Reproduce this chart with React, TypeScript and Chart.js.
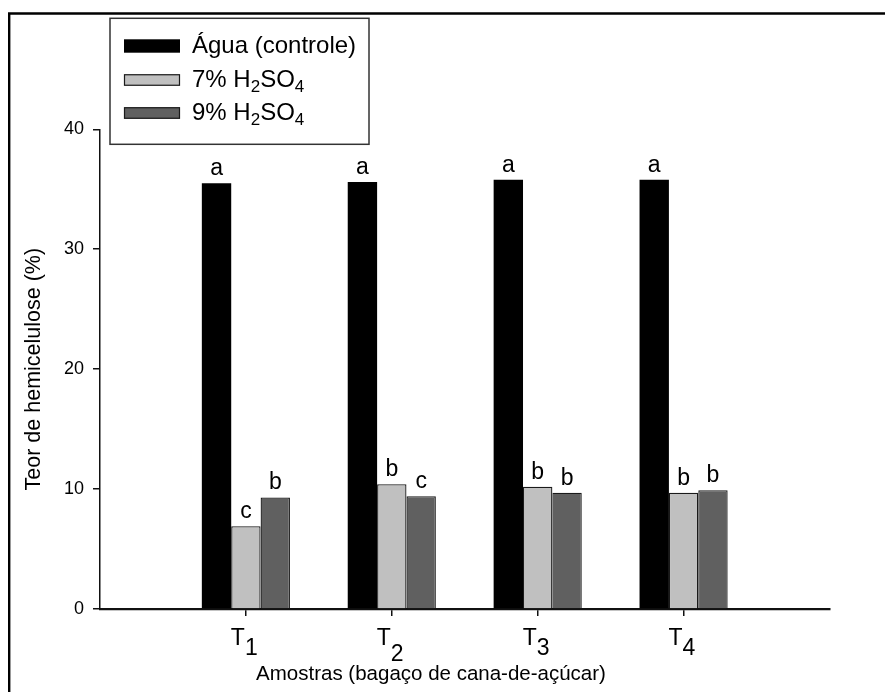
import React, { useEffect, useRef } from 'react';
import { Chart, registerables } from 'chart.js';

Chart.register(...registerables);

const categories = ['T1', 'T2', 'T3', 'T4'];
const categorySubscripts = ['1', '2', '3', '4'];
const seriesNames = ['Água (controle)', '7% H2SO4', '9% H2SO4'];
const aguaValues = [35.5, 35.6, 35.8, 35.8];
const h2so4_7Values = [6.9, 10.4, 10.2, 9.7];
const h2so4_9Values = [9.3, 9.4, 9.7, 9.9];
const aguaLetters = ['a', 'a', 'a', 'a'];
const h2so4_7Letters = ['c', 'b', 'b', 'b'];
const h2so4_9Letters = ['b', 'c', 'b', 'b'];
const yTickValues = [0, 10, 20, 30, 40];
const xTitle = 'Amostras (bagaço de cana-de-açúcar)';
const yTitle = 'Teor de hemicelulose (%)';

const FONT = '"Liberation Sans", Arial, Helvetica, sans-serif';
const colors = ['#000000', '#c0c0c0', '#606060'];
const borders = ['#000000', '#1a1a1a', '#1a1a1a'];

export default function App() {
  const ref = useRef<HTMLCanvasElement | null>(null);

  useEffect(() => {
    if (!ref.current) return;
    const labels = ['', ...categories, ''];
    const pad = (a: number[]) => [null, ...a, null];
    const letters = [aguaLetters, h2so4_7Letters, h2so4_9Letters];

    const decor = {
      id: 'decor',
      beforeDraw(chart: any) {
        const c = chart.ctx;
        c.save();
        c.fillStyle = '#fff';
        c.fillRect(0, 0, chart.width, chart.height);
        c.strokeStyle = '#000';
        c.lineWidth = 2.4;
        c.beginPath();
        c.moveTo(9.2, chart.height + 10);
        c.lineTo(9.2, 13.5);
        c.lineTo(chart.width + 10, 13.5);
        c.stroke();
        c.restore();
      },
      afterDraw(chart: any) {
        const c = chart.ctx;
        const ca = chart.chartArea;
        c.save();
        c.fillStyle = '#000';
        c.font = `23px ${FONT}`;
        c.textAlign = 'center';
        c.textBaseline = 'alphabetic';
        for (let d = 0; d < 3; d++) {
          const meta = chart.getDatasetMeta(d);
          for (let j = 0; j < categories.length; j++) {
            const el = meta.data[j + 1];
            if (!el) continue;
            c.fillText(letters[d][j], el.x, el.y - 8);
          }
        }
        // x tick labels with subscripts
        const xs = chart.scales.x;
        for (let j = 0; j < categories.length; j++) {
          const px = xs.getPixelForValue(j + 1);
          c.font = `23px ${FONT}`;
          c.textAlign = 'right';
          c.fillText('T', px - 1, ca.bottom + 36);
          c.textAlign = 'left';
          c.fillText(categorySubscripts[j], px - 1, ca.bottom + 46 + (j === 1 ? 6 : 0));
        }
        // axis titles
        c.font = `20.5px ${FONT}`;
        c.textAlign = 'center';
        c.fillText(xTitle, ca.left + 331, ca.bottom + 71);
        c.save();
        c.font = `21.5px ${FONT}`;
        c.translate(ca.left - 60, (ca.top + ca.bottom) / 2);
        c.rotate(-Math.PI / 2);
        c.fillText(yTitle, 0, 0);
        c.restore();

        // legend
        const lx = ca.left + 10;
        const ly = ca.top - 111;
        c.strokeStyle = '#333';
        c.lineWidth = 1.5;
        c.strokeRect(lx, ly, 259, 126);
        const rowsY = [46, 80, 113].map((v) => v - 129.3 + ca.top);
        const swH = [13.4, 11.5, 11.5];
        for (let i = 0; i < 3; i++) {
          const sy = rowsY[i] - swH[i] / 2;
          c.fillStyle = colors[i];
          c.fillRect(lx + 14, sy, 56, swH[i]);
          if (i > 0) {
            c.strokeStyle = '#1a1a1a';
            c.lineWidth = 1.2;
            c.strokeRect(lx + 14.5, sy + 0.5, 55, swH[i] - 1);
          }
          c.fillStyle = '#000';
          c.textAlign = 'left';
          c.textBaseline = 'alphabetic';
          const tx = lx + 82;
          const base = rowsY[i] + 7;
          if (i === 0) {
            c.font = `24px ${FONT}`;
            c.fillText(seriesNames[0], tx, base);
          } else {
            const name = seriesNames[i];
            const parts = name.match(/[^0-9]+|[0-9]+/g) || [];
            let x = tx;
            let first = true;
            for (const p of parts) {
              const isDigit = /^[0-9]+$/.test(p);
              const sub = isDigit && !first;
              c.font = sub ? `17px ${FONT}` : `24px ${FONT}`;
              c.fillText(p, x, sub ? base + 5 : base);
              x += c.measureText(p).width;
              first = false;
            }
          }
        }
        c.restore();
      },
    };

    const chart = new Chart(ref.current, {
      type: 'bar',
      data: {
        labels,
        datasets: [
          { label: seriesNames[0], data: pad(aguaValues) as any, backgroundColor: colors[0], borderColor: borders[0], borderWidth: 0 },
          { label: seriesNames[1], data: pad(h2so4_7Values) as any, backgroundColor: colors[1], borderColor: borders[1], borderWidth: 1.3 },
          { label: seriesNames[2], data: pad(h2so4_9Values) as any, backgroundColor: colors[2], borderColor: borders[2], borderWidth: 1.3 },
        ],
      },
      options: {
        responsive: false,
        animation: false,
        devicePixelRatio: 1,
        layout: { padding: { left: 0, right: 55.5, top: 129.3, bottom: 0 } },
        datasets: { bar: { categoryPercentage: 0.604, barPercentage: 1.0, grouped: true } },
        plugins: { legend: { display: false }, tooltip: { enabled: false }, title: { display: false } },
        scales: {
          x: {
            type: 'category',
            offset: false,
            ticks: { display: false },
            grid: {
              display: true,
              offset: false,
              drawOnChartArea: false,
              drawTicks: true,
              tickLength: 7,
              lineWidth: 1.5,
              tickColor: (ctx: any) => (ctx.index === 0 || ctx.index === labels.length - 1 ? 'rgba(0,0,0,0)' : '#111'),
            },
            border: { display: true, color: '#111', width: 2.2 },
            afterFit: (s: any) => { s.height = 83; },
          },
          y: {
            type: 'linear',
            min: 0,
            max: 40,
            afterBuildTicks: (s: any) => { s.ticks = yTickValues.map((v) => ({ value: v })); },
            ticks: { color: '#000', font: { family: FONT, size: 18 }, padding: 9 },
            grid: { display: true, drawOnChartArea: false, drawTicks: true, tickLength: 7, lineWidth: 1.5, color: '#111', tickColor: '#111' },
            border: { display: true, color: '#111', width: 1.5 },
            afterFit: (s: any) => { s.width = 100; },
          },
        },
      },
      plugins: [decor],
    });
    return () => chart.destroy();
  }, []);

  return (
    <div style={{ position: 'fixed', left: 0, top: 0, width: 885, height: 692, background: '#fff' }}>
      <canvas ref={ref} width={885} height={692} style={{ display: 'block', width: 885, height: 692 }} />
    </div>
  );
}
